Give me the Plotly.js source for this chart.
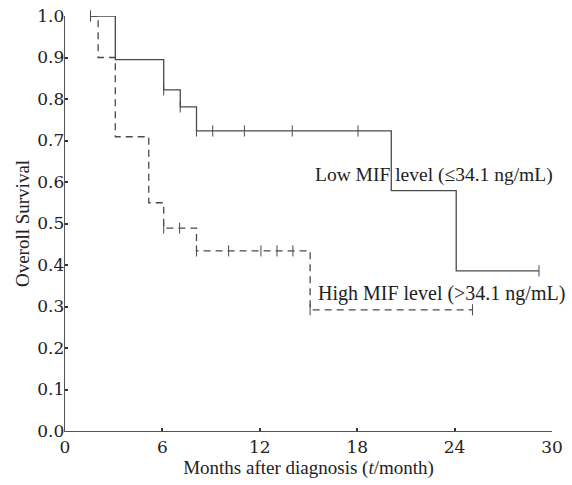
<!DOCTYPE html>
<html>
<head>
<meta charset="utf-8">
<script src="https://cdn.plot.ly/plotly-3.0.1.min.js"></script>
<style>html,body{margin:0;padding:0;background:#fff;}#chart{width:572px;height:485px;}</style>
</head>
<body>
<div id="chart"></div>
<script>
// Low MIF level curve (step function)
const lowTime = [1.57, 3.1, 6.08, 7.1, 8.1, 20.1, 24.1, 29.2];
const lowSurv = [1.0, 0.895, 0.822, 0.781, 0.723, 0.579, 0.386, 0.386];
const lowCensorTime = [1.57, 6.08, 7.1, 8.1, 9.1, 11.05, 14.0, 18.05, 29.2];
const lowCensorSurv = [1.0, 0.822, 0.781, 0.723, 0.723, 0.723, 0.723, 0.723, 0.386];

// High MIF level curve
const highTime = [1.57, 2.04, 3.1, 5.16, 6.08, 8.1, 15.1, 25.1];
const highSurv = [1.0, 0.9, 0.709, 0.55, 0.489, 0.434, 0.292, 0.292];
const highCensorTime = [6.08, 7.06, 8.1, 10.08, 12.07, 13.06, 14.04, 15.1, 25.1];
const highCensorSurv = [0.489, 0.489, 0.434, 0.434, 0.434, 0.434, 0.434, 0.292, 0.292];

const xTicks = [0, 6, 12, 18, 24, 30];
const yTicks = [0, 0.1, 0.2, 0.3, 0.4, 0.5, 0.6, 0.7, 0.8, 0.9, 1.0];
const yTickText = ["0.0","0.1","0.2","0.3","0.4","0.5","0.6","0.7","0.8","0.9","1.0"];

const labelLow = "Low MIF level (≤34.1 ng/mL)";
const labelHigh = "High MIF level (&gt;34.1 ng/mL)";

const lineColor = "#4a4a4a";
const font = "Liberation Serif, Times New Roman, serif";
const tickFont = "DejaVu Serif, serif";

const traces = [
  {x: lowTime, y: lowSurv, mode: "lines", line: {shape: "hv", color: lineColor, width: 1.3}, cliponaxis: false},
  {x: highTime, y: highSurv, mode: "lines", line: {shape: "hv", color: lineColor, width: 1.3, dash: "7px,5px"}, cliponaxis: false},
  {x: lowCensorTime, y: lowCensorSurv, mode: "markers", marker: {symbol: "line-ns-open", size: 8, color: lineColor, line: {color: lineColor, width: 1}}, cliponaxis: false},
  {x: highCensorTime, y: highCensorSurv, mode: "markers", marker: {symbol: "line-ns-open", size: 8, color: lineColor, line: {color: lineColor, width: 1}}, cliponaxis: false}
];

const layout = {
  width: 572, height: 485,
  margin: {l: 64.5, r: 20, t: 16, b: 54},
  paper_bgcolor: "#fff", plot_bgcolor: "#fff",
  showlegend: false,
  font: {family: font, color: "#222"},
  xaxis: {
    range: [0, 30], tickvals: xTicks, ticktext: xTicks.map(String),
    showgrid: false, zeroline: false, showline: true, linecolor: "#555", linewidth: 1.3,
    ticks: "inside", ticklen: 3, tickcolor: "#333", tickwidth: 2,
    tickfont: {family: tickFont, size: 17, color: "#222"},
    title: {text: "Months after diagnosis (<i>t</i>/month)", font: {family: font, size: 19, color: "#222"}, standoff: 0}
  },
  yaxis: {
    range: [0, 1.0], tickvals: yTicks, ticktext: yTickText,
    showgrid: false, zeroline: false, showline: true, linecolor: "#555", linewidth: 1.3,
    ticks: "inside", ticklen: 3, tickcolor: "#333", tickwidth: 2,
    tickfont: {family: tickFont, size: 17, color: "#222"},
    ticklabelstandoff: -4,
    title: {text: "Overoll Survival", font: {family: font, size: 19, color: "#222"}, standoff: 2}
  },
  annotations: [
    {x: 313, y: 175, xref: "paper", yref: "paper", text: labelLow, showarrow: false, xanchor: "left", yanchor: "middle",
     font: {family: font, size: 19.5, color: "#222"}},
    {x: 316, y: 293, xref: "paper", yref: "paper", text: labelHigh, showarrow: false, xanchor: "left", yanchor: "middle",
     font: {family: font, size: 20, color: "#222"}}
  ]
};
// convert annotation pixel positions to paper coordinates
const pw = 572 - 64.5 - 20, ph = 485 - 16 - 54;
layout.annotations.forEach(a => { a.x = (a.x - 64.5) / pw; a.y = (485 - 54 - a.y) / ph; });

Plotly.newPlot("chart", traces, layout, {displayModeBar: false, staticPlot: true});
</script>
</body>
</html>
